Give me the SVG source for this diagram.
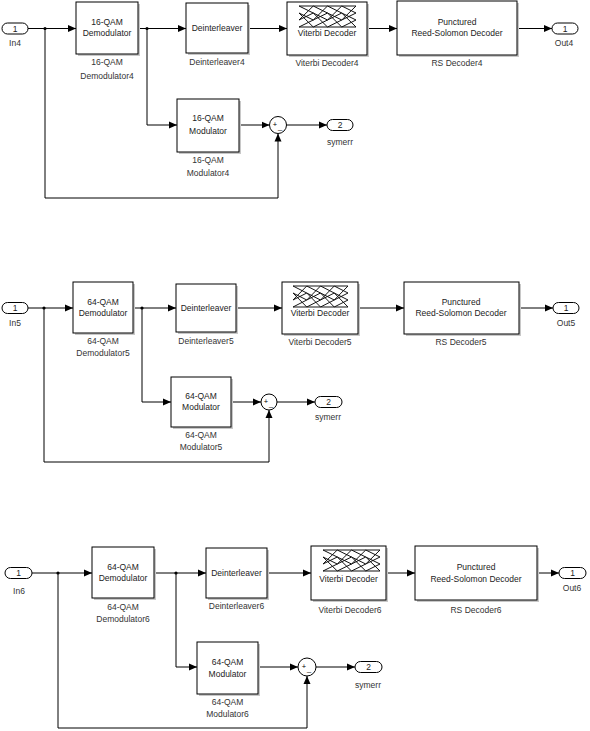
<svg xmlns="http://www.w3.org/2000/svg" xmlns:xlink="http://www.w3.org/1999/xlink" width="590" height="731" viewBox="0 0 590 731">
<style>
text{font-family:"Liberation Sans",Arial,sans-serif;font-size:8.5px;fill:#222;text-anchor:middle}
.lbl{fill:#333}
.box{fill:#fff;stroke:#000;stroke-width:1}
.sh{fill:#c8c8c8;stroke:none}
.port{fill:#fff;stroke:#000;stroke-width:1}
.w{fill:none;stroke:#000;stroke-width:1}
.sum{fill:#fff;stroke:#000;stroke-width:1}
.tr{fill:none;stroke:#111;stroke-width:1}
.dot{fill:#000}
.sg{font-size:7.5px;fill:#000}
</style>
<defs>
<marker id="ah" markerUnits="userSpaceOnUse" markerWidth="8" markerHeight="8" viewBox="0 0 8 8" refX="8" refY="4" orient="auto">
<path d="M0,0.5 L8,4 L0,7.5 Z" fill="#000"/>
</marker>
<g id="trellis" class="tr">
<path d="M0,0 L14.25,0 M0,0 L14.25,7 M0,7 L14.25,14 M0,7 L14.25,21 M0,14 L14.25,0 M0,14 L14.25,7 M0,21 L14.25,14 M0,21 L14.25,21"/>
<path transform="translate(14.25,0)" d="M0,0 L14.25,0 M0,0 L14.25,7 M0,7 L14.25,14 M0,7 L14.25,21 M0,14 L14.25,0 M0,14 L14.25,7 M0,21 L14.25,14 M0,21 L14.25,21"/>
<path transform="translate(28.5,0)" d="M0,0 L14.25,0 M0,0 L14.25,7 M0,7 L14.25,14 M0,7 L14.25,21 M0,14 L14.25,0 M0,14 L14.25,7 M0,21 L14.25,14 M0,21 L14.25,21"/>
<path transform="translate(42.75,0)" d="M0,0 L14.25,0 M0,0 L14.25,7 M0,7 L14.25,14 M0,7 L14.25,21 M0,14 L14.25,0 M0,14 L14.25,7 M0,21 L14.25,14 M0,21 L14.25,21"/>
</g>
</defs>
<rect width="590" height="731" fill="#fff"/>

<!-- ===== Section 1 ===== -->
<g id="connectors1">
<path class="w" d="M28,28.5 H76" marker-end="url(#ah)"/>
<path class="w" d="M138,28.5 H186" marker-end="url(#ah)"/>
<path class="w" d="M248,28.5 H287" marker-end="url(#ah)"/>
<path class="w" d="M367,28.5 H397" marker-end="url(#ah)"/>
<path class="w" d="M517,28.5 H552" marker-end="url(#ah)"/>
<path class="w" d="M147,28.5 V125 H177" marker-end="url(#ah)"/>
<path class="w" d="M239,125 H269.5" marker-end="url(#ah)"/>
<path class="w" d="M45,28.5 V198 H278 V133.5" marker-end="url(#ah)"/>
<path class="w" d="M286.5,125 H327" marker-end="url(#ah)"/>
<circle class="dot" cx="45" cy="28.5" r="1.6"/>
<circle class="dot" cx="147" cy="28.5" r="1.6"/>
</g>
<g id="In4">
<rect class="port" x="2" y="23" width="26" height="11" rx="5.5"/>
<text x="15" y="31.5">1</text>
<text class="lbl" x="15" y="46">In4</text>
</g>
<g id="Demodulator4">
<rect class="sh" x="78" y="4" width="62" height="52"/>
<rect class="box" x="76" y="2" width="62" height="52"/>
<text x="107" y="25">16-QAM</text>
<text x="107" y="36">Demodulator</text>
<text class="lbl" x="107" y="65">16-QAM</text>
<text class="lbl" x="107" y="79">Demodulator4</text>
</g>
<g id="Deinterleaver4">
<rect class="sh" x="188" y="5" width="62" height="50"/>
<rect class="box" x="186" y="3" width="62" height="50"/>
<text x="217" y="31">Deinterleaver</text>
<text class="lbl" x="217" y="65">Deinterleaver4</text>
</g>
<g id="ViterbiDecoder4">
<rect class="sh" x="289" y="4" width="80" height="53"/>
<rect class="box" x="287" y="2" width="80" height="53"/>
<use xlink:href="#trellis" href="#trellis" transform="translate(299,6)"/>
<text x="327" y="36">Viterbi Decoder</text>
<text class="lbl" x="327" y="66">Viterbi Decoder4</text>
</g>
<g id="RSDecoder4">
<rect class="sh" x="399" y="3" width="120" height="54"/>
<rect class="box" x="397" y="1" width="120" height="54"/>
<text x="457" y="25">Punctured</text>
<text x="457" y="36">Reed-Solomon Decoder</text>
<text class="lbl" x="457" y="66">RS Decoder4</text>
</g>
<g id="Out4">
<rect class="port" x="552" y="23" width="26" height="11" rx="5.5"/>
<text x="565" y="31.5">1</text>
<text class="lbl" x="564" y="46">Out4</text>
</g>
<g id="Modulator4">
<rect class="sh" x="179" y="101" width="62" height="53"/>
<rect class="box" x="177" y="99" width="62" height="53"/>
<text x="208" y="121">16-QAM</text>
<text x="208" y="134">Modulator</text>
<text class="lbl" x="208" y="163">16-QAM</text>
<text class="lbl" x="208" y="176">Modulator4</text>
</g>
<g id="Sum4">
<circle class="sum" cx="278" cy="125" r="8.5"/>
<text class="sg" x="275" y="127">+</text>
<text class="sg" x="280" y="129">_</text>
</g>
<g id="symerr4">
<rect class="port" x="327" y="119.5" width="26" height="11" rx="5.5"/>
<text x="340" y="128">2</text>
<text class="lbl" x="340" y="145">symerr</text>
</g>

<!-- ===== Section 2 ===== -->
<g id="connectors2">
<path class="w" d="M28,308 H73" marker-end="url(#ah)"/>
<path class="w" d="M133,308 H176" marker-end="url(#ah)"/>
<path class="w" d="M236,308 H282" marker-end="url(#ah)"/>
<path class="w" d="M358,308 H404" marker-end="url(#ah)"/>
<path class="w" d="M519,308 H553" marker-end="url(#ah)"/>
<path class="w" d="M142,308 V402 H171" marker-end="url(#ah)"/>
<path class="w" d="M231,402 H261" marker-end="url(#ah)"/>
<path class="w" d="M44,308 V462 H269 V410" marker-end="url(#ah)"/>
<path class="w" d="M277,402 H315" marker-end="url(#ah)"/>
<circle class="dot" cx="44" cy="308" r="1.6"/>
<circle class="dot" cx="142" cy="308" r="1.6"/>
</g>
<g id="In5">
<rect class="port" x="2" y="302.5" width="26" height="11" rx="5.5"/>
<text x="15" y="311">1</text>
<text class="lbl" x="15" y="326">In5</text>
</g>
<g id="Demodulator5">
<rect class="sh" x="75" y="284" width="60" height="51"/>
<rect class="box" x="73" y="282" width="60" height="51"/>
<text x="103" y="305">64-QAM</text>
<text x="103" y="316">Demodulator</text>
<text class="lbl" x="103" y="344">64-QAM</text>
<text class="lbl" x="103" y="356">Demodulator5</text>
</g>
<g id="Deinterleaver5">
<rect class="sh" x="178" y="286" width="60" height="48"/>
<rect class="box" x="176" y="284" width="60" height="48"/>
<text x="206" y="311">Deinterleaver</text>
<text class="lbl" x="206" y="344">Deinterleaver5</text>
</g>
<g id="ViterbiDecoder5">
<rect class="sh" x="284" y="284" width="76" height="52"/>
<rect class="box" x="282" y="282" width="76" height="52"/>
<use xlink:href="#trellis" href="#trellis" transform="translate(293,286) scale(0.965,1)"/>
<text x="320" y="316">Viterbi Decoder</text>
<text class="lbl" x="320" y="345">Viterbi Decoder5</text>
</g>
<g id="RSDecoder5">
<rect class="sh" x="406" y="284" width="115" height="52"/>
<rect class="box" x="404" y="282" width="115" height="52"/>
<text x="461" y="305">Punctured</text>
<text x="461" y="316">Reed-Solomon Decoder</text>
<text class="lbl" x="461" y="345">RS Decoder5</text>
</g>
<g id="Out5">
<rect class="port" x="553" y="302.5" width="26" height="11" rx="5.5"/>
<text x="566" y="311">1</text>
<text class="lbl" x="566" y="326">Out5</text>
</g>
<g id="Modulator5">
<rect class="sh" x="173" y="379" width="60" height="50"/>
<rect class="box" x="171" y="377" width="60" height="50"/>
<text x="201" y="399">64-QAM</text>
<text x="201" y="410">Modulator</text>
<text class="lbl" x="201" y="438">64-QAM</text>
<text class="lbl" x="201" y="450">Modulator5</text>
</g>
<g id="Sum5">
<circle class="sum" cx="269" cy="402" r="8"/>
<text class="sg" x="266" y="404">+</text>
<text class="sg" x="271" y="406">_</text>
</g>
<g id="symerr5">
<rect class="port" x="315" y="396.5" width="27" height="11" rx="5.5"/>
<text x="328.5" y="405">2</text>
<text class="lbl" x="328" y="420">symerr</text>
</g>

<!-- ===== Section 3 ===== -->
<g id="connectors3">
<path class="w" d="M32,573 H92" marker-end="url(#ah)"/>
<path class="w" d="M154,573 H206" marker-end="url(#ah)"/>
<path class="w" d="M267,573 H311" marker-end="url(#ah)"/>
<path class="w" d="M386,573 H415" marker-end="url(#ah)"/>
<path class="w" d="M537,573 H559" marker-end="url(#ah)"/>
<path class="w" d="M176,573 V667 H197" marker-end="url(#ah)"/>
<path class="w" d="M258,667 H298" marker-end="url(#ah)"/>
<path class="w" d="M58,573 V728 H307 V676" marker-end="url(#ah)"/>
<path class="w" d="M316,667 H355" marker-end="url(#ah)"/>
<circle class="dot" cx="58" cy="573" r="1.6"/>
<circle class="dot" cx="176" cy="573" r="1.6"/>
</g>
<g id="In6">
<rect class="port" x="5" y="567.5" width="27" height="11" rx="5.5"/>
<text x="18.5" y="576">1</text>
<text class="lbl" x="19" y="594">In6</text>
</g>
<g id="Demodulator6">
<rect class="sh" x="94" y="549" width="62" height="51"/>
<rect class="box" x="92" y="547" width="62" height="51"/>
<text x="123" y="570">64-QAM</text>
<text x="123" y="581">Demodulator</text>
<text class="lbl" x="123" y="610">64-QAM</text>
<text class="lbl" x="123" y="622">Demodulator6</text>
</g>
<g id="Deinterleaver6">
<rect class="sh" x="208" y="550" width="61" height="50"/>
<rect class="box" x="206" y="548" width="61" height="50"/>
<text x="236.5" y="576">Deinterleaver</text>
<text class="lbl" x="236.5" y="609">Deinterleaver6</text>
</g>
<g id="ViterbiDecoder6">
<rect class="sh" x="313" y="548" width="75" height="54"/>
<rect class="box" x="311" y="546" width="75" height="54"/>
<use xlink:href="#trellis" href="#trellis" transform="translate(323,550)"/>
<text x="348.5" y="582">Viterbi Decoder</text>
<text class="lbl" x="350" y="613">Viterbi Decoder6</text>
</g>
<g id="RSDecoder6">
<rect class="sh" x="417" y="548" width="122" height="54"/>
<rect class="box" x="415" y="546" width="122" height="54"/>
<text x="476" y="570">Punctured</text>
<text x="476" y="582">Reed-Solomon Decoder</text>
<text class="lbl" x="476" y="613">RS Decoder6</text>
</g>
<g id="Out6">
<rect class="port" x="559" y="567.5" width="27" height="11" rx="5.5"/>
<text x="572.5" y="576">1</text>
<text class="lbl" x="572" y="591">Out6</text>
</g>
<g id="Modulator6">
<rect class="sh" x="199" y="644" width="61" height="52"/>
<rect class="box" x="197" y="642" width="61" height="52"/>
<text x="227.5" y="665">64-QAM</text>
<text x="227.5" y="677">Modulator</text>
<text class="lbl" x="227.5" y="705">64-QAM</text>
<text class="lbl" x="227.5" y="717">Modulator6</text>
</g>
<g id="Sum6">
<circle class="sum" cx="307" cy="667" r="9"/>
<text class="sg" x="304" y="669">+</text>
<text class="sg" x="309" y="671">_</text>
</g>
<g id="symerr6">
<rect class="port" x="355" y="661.5" width="27" height="11" rx="5.5"/>
<text x="368.5" y="670">2</text>
<text class="lbl" x="368" y="688">symerr</text>
</g>
</svg>
